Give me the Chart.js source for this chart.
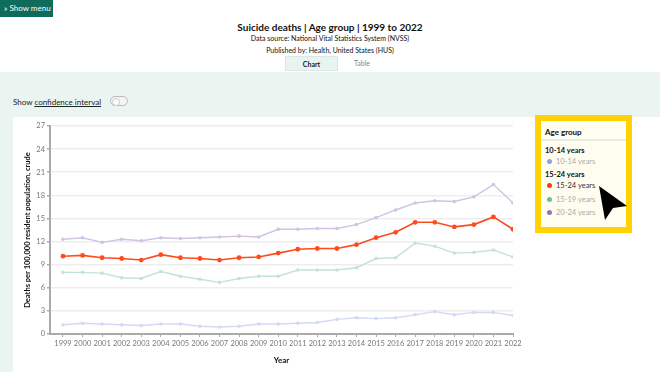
<!DOCTYPE html>
<html>
<head>
<meta charset="utf-8">
<script src="https://cdn.jsdelivr.net/npm/chart.js@4/dist/chart.umd.min.js"></script>
<style>
  body { margin: 0; width: 660px; height: 372px; overflow: hidden; background: #fff; font-family: Lato, sans-serif; position: relative; }
  .menu-btn { position: absolute; left: 0; top: 0; width: 53px; height: 17px; background: #0f6b5b; color: #fff; font-size: 8px; line-height: 17px; padding-left: 4px; box-sizing: border-box; }
  .head { position: absolute; left: 0; width: 660px; text-align: center; color: #111; line-height: 12px; }
  .title { top: 21px; font-size: 10px; font-weight: bold; }
  .sub { font-size: 7px; }
  .tab { position: absolute; top: 56px; height: 15px; font-size: 7px; line-height: 15px; text-align: center; }
  .mint { position: absolute; left: 0; top: 72px; width: 660px; height: 300px; background: #eaf5f2; }
  .card { position: absolute; left: 13px; top: 117px; width: 647px; height: 255px; background: #fff; }
  .ci { position: absolute; left: 13px; top: 97px; font-size: 8px; line-height: 10px; color: #222; }
  .ci u { text-decoration: underline; }
  .toggle { position: absolute; left: 110px; top: 96px; width: 18px; height: 10px; border: 1px solid #bbb; border-radius: 6px; background: #f4f4f4; box-sizing: border-box; }
  .toggle::after { content: ""; position: absolute; left: 1px; top: 1px; width: 6px; height: 6px; border-radius: 50%; background: #fff; border: 1px solid #ccc; }
  #chartBox { position: absolute; left: 13px; top: 117px; width: 517px; height: 255px; }
  .legend { position: absolute; left: 535px; top: 115px; width: 97px; height: 118px; border: 6px solid #ffd200; background: #fffdf0; box-sizing: border-box; font-size: 7.5px; line-height: 10px; }
  .legend .hd { position: absolute; left: 4px; top: 6px; font-weight: bold; color: #111; font-size: 8px; }
  .legend .sep { position: absolute; left: 0; right: 0; top: 18px; height: 2px; background: #ebebe3; }
  .legend .grp { position: absolute; left: 4px; font-weight: bold; color: #111; }
  .legend .item { position: absolute; left: 6px; color: #aaa; white-space: nowrap; }
  .legend .item.on { color: #333; }
  .legend .dot { display: inline-block; width: 5px; height: 5px; border-radius: 50%; margin-right: 4px; vertical-align: 0px; }
  .cursor { position: absolute; left: 0; top: 0; }
</style>
</head>
<body>
<div class="menu-btn">» Show menu</div>
<div class="head title">Suicide deaths | Age group | 1999 to 2022</div>
<div class="head sub" style="top: 32px;">Data source: National Vital Statistics System (NVSS)</div>
<div class="head sub" style="top: 44px;">Published by: Health, United States (HUS)</div>
<div class="tab" style="left: 285px; width: 53px; background: #e8f4f1; border: 1px solid #dde8e5; box-sizing: border-box; font-weight: bold; color: #222;">Chart</div>
<div class="tab" style="left: 342px; width: 40px; color: #888;">Table</div>

<div class="mint"></div>
<div class="card"></div>
<div class="ci">Show <u>confidence interval</u></div>
<div class="toggle"></div>

<div id="chartBox"><canvas id="suicideChart" width="517" height="255"></canvas></div>

<div class="legend">
  <div class="hd">Age group</div>
  <div class="sep"></div>
  <div class="grp" style="top: 25px;">10-14 years</div>
  <div class="item" style="top: 36px;"><span class="dot" style="background:#8fa2e0"></span>10-14 years</div>
  <div class="grp" style="top: 49px;">15-24 years</div>
  <div class="item on" style="top: 60px;"><span class="dot" style="background:#ff3d12"></span>15-24 years</div>
  <div class="item" style="top: 74px;"><span class="dot" style="background:#6cbfa0"></span>15-19 years</div>
  <div class="item" style="top: 87px;"><span class="dot" style="background:#9a72c4"></span>20-24 years</div>
</div>

<svg class="cursor" width="660" height="372">
  <polygon points="599,186 627,206 613,208 605,220" fill="#000"/>
</svg>

<script>
// Dữ liệu: tỷ lệ tử vong do tự tử trên 100.000 dân theo nhóm tuổi
const years = [1999, 2000, 2001, 2002, 2003, 2004, 2005, 2006, 2007, 2008, 2009, 2010,
               2011, 2012, 2013, 2014, 2015, 2016, 2017, 2018, 2019, 2020, 2021, 2022];
const age1014 = [1.2, 1.4, 1.3, 1.2, 1.1, 1.3, 1.3, 1.0, 0.9, 1.0, 1.3, 1.3,
                 1.4, 1.5, 1.9, 2.1, 2.0, 2.1, 2.5, 2.9, 2.5, 2.8, 2.8, 2.4];
const age1524 = [10.1, 10.2, 9.9, 9.8, 9.6, 10.3, 9.9, 9.8, 9.6, 9.9, 10.0, 10.5,
                 11.0, 11.1, 11.1, 11.6, 12.5, 13.2, 14.5, 14.5, 13.9, 14.2, 15.2, 13.6];
const age1519 = [8.0, 8.0, 7.9, 7.3, 7.2, 8.1, 7.5, 7.1, 6.7, 7.2, 7.5, 7.5,
                 8.3, 8.3, 8.3, 8.6, 9.8, 9.9, 11.8, 11.4, 10.5, 10.6, 10.9, 10.0];
const age2024 = [12.3, 12.5, 11.9, 12.3, 12.1, 12.5, 12.4, 12.5, 12.6, 12.7, 12.6, 13.6,
                 13.6, 13.7, 13.7, 14.2, 15.1, 16.1, 17.0, 17.3, 17.2, 17.8, 19.4, 17.0];
const yTicks = [0, 3, 6, 9, 12, 15, 18, 21, 24, 27];

const toPoints = vals => vals.map((v, i) => ({ x: years[i], y: v }));

function series(label, vals, color, width, radius, order) {
    return {
        label: label,
        data: toPoints(vals),
        borderColor: color,
        backgroundColor: color,
        borderWidth: width,
        pointRadius: radius,
        pointBorderWidth: 0,
        tension: 0,
        order: order
    };
}

const ctx = document.getElementById('suicideChart').getContext('2d');
new Chart(ctx, {
    type: 'line',
    data: {
        datasets: [
            series('15-24 years', age1524, '#ff4a1c', 1.6, 2.4, 0),
            series('10-14 years', age1014, '#d3daf6', 1.4, 1.8, 1),
            series('15-19 years', age1519, '#c2e3d5', 1.4, 1.8, 1),
            series('20-24 years', age2024, '#d3c2e3', 1.4, 1.8, 1)
        ]
    },
    options: {
        responsive: false,
        animation: false,
        layout: { padding: { top: 9, right: 17, left: 0, bottom: 0 } },
        plugins: { legend: { display: false }, tooltip: { enabled: false } },
        scales: {
            x: {
                type: 'linear',
                min: 1998.336,
                max: 2022,
                afterBuildTicks: s => { s.ticks = years.map(y => ({ value: y })); },
                afterFit: s => { s.height = 38; },
                ticks: {
                    callback: v => String(v),
                    color: '#777',
                    font: { family: 'Lato', size: 7.5 },
                    padding: 2,
                    maxRotation: 0,
                    autoSkip: false
                },
                grid: { drawOnChartArea: false, drawTicks: true, tickLength: 3, tickColor: '#aaa' },
                border: { color: '#aaa', width: 2 },
                title: {
                    display: true,
                    text: 'Year',
                    color: '#111',
                    font: { family: 'Lato', size: 8, weight: 'bold' },
                    padding: { top: 0, bottom: 7 }
                }
            },
            y: {
                min: 0,
                max: 27,
                afterBuildTicks: s => { s.ticks = yTicks.map(v => ({ value: v })); },
                afterFit: s => { s.width = 37; },
                ticks: {
                    color: '#777',
                    font: { family: 'Lato', size: 7.5 },
                    padding: 2
                },
                grid: { color: '#eeeeee', lineWidth: 1.5, tickLength: 3, tickColor: '#aaa' },
                border: { color: '#aaa', width: 2 },
                title: {
                    display: true,
                    text: 'Deaths per 100,000 resident population, crude',
                    color: '#111',
                    font: { family: 'Lato', size: 7.5, weight: 'bold' },
                    padding: { top: 10, bottom: 0 }
                }
            }
        }
    }
});
</script>
</body>
</html>
